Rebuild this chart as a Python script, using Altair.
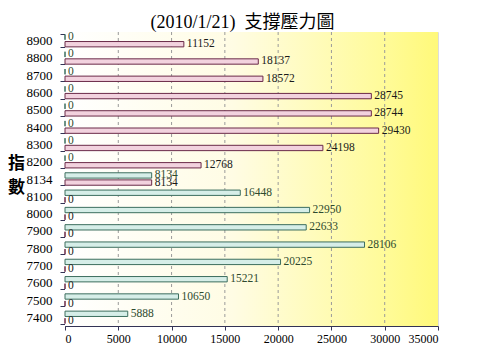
import altair as alt
import pandas as pd

categories = ["8900", "8800", "8700", "8600", "8500", "8400", "8300", "8200", "8134",
              "8100", "8000", "7900", "7800", "7700", "7600", "7500", "7400"]
pressure = [11152, 18137, 18572, 28745, 28744, 29430, 24198, 12768, 8134,
            0, 0, 0, 0, 0, 0, 0, 0]
support = [0, 0, 0, 0, 0, 0, 0, 0, 8134,
           16448, 22950, 22633, 28106, 20225, 15221, 10650, 5888]
series_names = ["支撐", "壓力"]
x_ticks = [0, 5000, 10000, 15000, 20000, 25000, 30000, 35000]

rows = []
for c, p, s in zip(categories, pressure, support):
    rows.append({"cat": c, "series": "支撐", "value": s})
    rows.append({"cat": c, "series": "壓力", "value": p})
df = pd.DataFrame(rows)
grid_df = pd.DataFrame({"t": x_ticks[1:-1]})

W, H = 373, 294
SERIF = "Liberation Serif, Noto Sans CJK TC"

xscale = alt.Scale(domain=[0, 35000], nice=False)
yscale = alt.Scale(paddingInner=0.28, paddingOuter=0.14)

bg = alt.Chart(alt.Data(values=[{}])).mark_rect(
    color=alt.Gradient(
        gradient="linear",
        stops=[alt.GradientStop(color="#FFFFFF", offset=0),
               alt.GradientStop(color="#FFFCE4", offset=0.45),
               alt.GradientStop(color="#FFFB9A", offset=0.85),
               alt.GradientStop(color="#FFF97A", offset=1)],
        x1=0, x2=1, y1=0, y2=0)
).encode(x=alt.value(0), x2=alt.value(W), y=alt.value(0), y2=alt.value(H))

grid = alt.Chart(grid_df).mark_rule(color="#9A9A9A", strokeDash=[3, 3], strokeWidth=1).encode(
    x=alt.X("t:Q", scale=xscale)
)

base = alt.Chart(df).encode(
    y=alt.Y("cat:N", sort=categories, scale=yscale,
            axis=alt.Axis(title=["指", "數"], titleAngle=0, titleFont="Noto Sans CJK TC",
                          titleFontSize=17, titleFontWeight="bold", titleColor="#000",
                          titleX=-49, titleY=123, titleAlign="center",
                          titleBaseline="top", titleLineHeight=24,
                          labelFont=SERIF, labelFontSize=13, labelColor="#000",
                          labelFontWeight="normal",
                          tickBand="extent", tickSize=5, tickColor="#333355",
                          domainColor="#333355", labelPadding=8)),
    yOffset=alt.YOffset("series:N", sort=series_names,
                        scale=alt.Scale(paddingInner=0.25, paddingOuter=0.0)),
)

bars = base.mark_bar(strokeWidth=1).encode(
    x=alt.X("value:Q", scale=xscale,
            axis=alt.Axis(values=x_ticks, title=None, grid=False, labelFont=SERIF,
                          labelFontSize=12, labelColor="#000", tickSize=4,
                          tickColor="#333355", domainColor="#333355", labelPadding=3,
                          format="d")),
    fill=alt.Fill("series:N", sort=series_names,
                  scale=alt.Scale(domain=series_names, range=["#D6EEE8", "#F2D2DE"]),
                  legend=None),
    stroke=alt.Stroke("series:N", sort=series_names,
                      scale=alt.Scale(domain=series_names, range=["#3C6E5E", "#6A2A48"]),
                      legend=None),
)

labels = base.mark_text(align="left", baseline="middle", dx=3, font=SERIF,
                        fontSize=11.5).encode(
    x=alt.X("value:Q", scale=xscale),
    text=alt.Text("value:Q", format="d"),
    color=alt.Color("series:N", sort=series_names,
                    scale=alt.Scale(domain=series_names, range=["#2E4A2E", "#1A1A1A"]),
                    legend=None),
)

chart = alt.layer(bg, grid, bars, labels).properties(
    width=W, height=H,
    autosize=alt.AutoSizeParams(type="none"),
    padding={"left": 57, "top": 24, "right": 40, "bottom": 24},
    title=alt.TitleParams("(2010/1/21)\u00a0\u00a0支撐壓力圖", font=SERIF, fontSize=18,
                          fontWeight="normal", color="#000", offset=5, dy=11, dx=-9),
).resolve_scale(color="independent", fill="independent", stroke="independent").configure_view(
    stroke="#707070", strokeWidth=1
).configure(background="#FFFFFF")

chart.save("out.html", embed_options={"renderer": "svg", "actions": False})
